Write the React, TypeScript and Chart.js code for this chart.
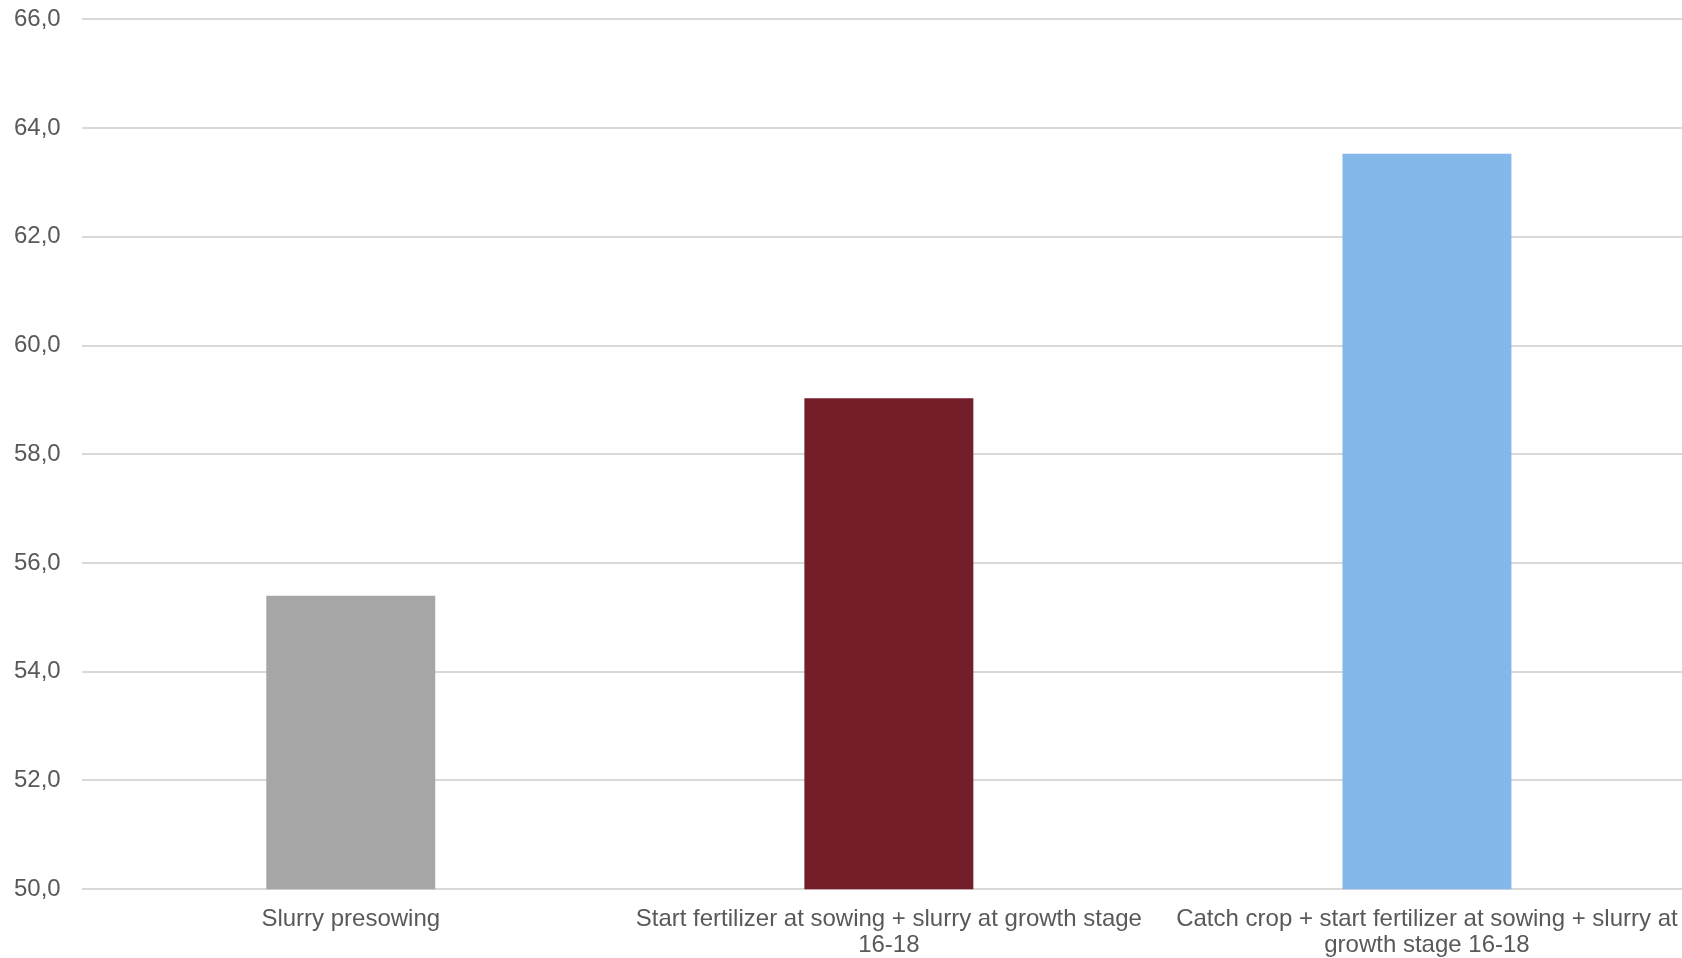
import React, { useEffect, useRef } from "react";
import { Chart, registerables } from "chart.js";

Chart.register(...registerables);

const categories: string[][] = [
  ["Slurry presowing"],
  ["Start fertilizer at sowing + slurry at growth stage", "16-18"],
  ["Catch crop + start fertilizer at sowing + slurry at", "growth stage 16-18"],
];
const values: number[] = [55.4, 59.03, 63.53];
const barColors: string[] = ["#A6A6A6", "#741E29", "#85B8EA"];
const yMin = 50;
const yMax = 66;
const yStep = 2;

export default function App() {
  const ref = useRef<HTMLCanvasElement | null>(null);

  useEffect(() => {
    document.body.style.margin = "0";
    document.body.style.overflow = "hidden";
    const ctx = ref.current!.getContext("2d")!;
    const chart = new Chart(ctx, {
      type: "bar",
      data: {
        labels: categories,
        datasets: [
          {
            data: values,
            backgroundColor: barColors,
            borderWidth: 0,
            barPercentage: 0.314,
            categoryPercentage: 1,
          },
        ],
      },
      options: {
        responsive: false,
        animation: false,
        devicePixelRatio: 1,
        layout: { padding: { left: 0, right: 4, top: 2, bottom: 0 } },
        plugins: {
          legend: { display: false },
          tooltip: { enabled: false },
        },
        scales: {
          x: {
            grid: { display: false, drawTicks: false },
            border: { display: false },
            ticks: {
              color: "#595959",
              font: { family: "'Liberation Sans', Arial, sans-serif", size: 24, lineHeight: 1.1 },
              padding: 17,
              maxRotation: 0,
              minRotation: 0,
              autoSkip: false,
            },
          },
          y: {
            min: yMin,
            max: yMax,
            grid: { color: "#D9D9D9", lineWidth: 2, drawTicks: false },
            border: { display: false },
            ticks: {
              stepSize: yStep,
              color: "#595959",
              font: { family: "'Liberation Sans', Arial, sans-serif", size: 24 },
              padding: 21,
              callback: (v: any) => Number(v).toFixed(1).replace(".", ","),
            },
          },
        },
      },
    });
    return () => chart.destroy();
  }, []);

  return (
    <div
      style={{
        position: "fixed",
        left: 0,
        top: 0,
        width: 1682,
        height: 958,
        overflow: "hidden",
        background: "#ffffff",
      }}
    >
      <canvas
        ref={ref}
        width={1707}
        height={992}
        style={{ width: 1707, height: 992, display: "block", marginLeft: -7, marginTop: -16 }}
      />
    </div>
  );
}
